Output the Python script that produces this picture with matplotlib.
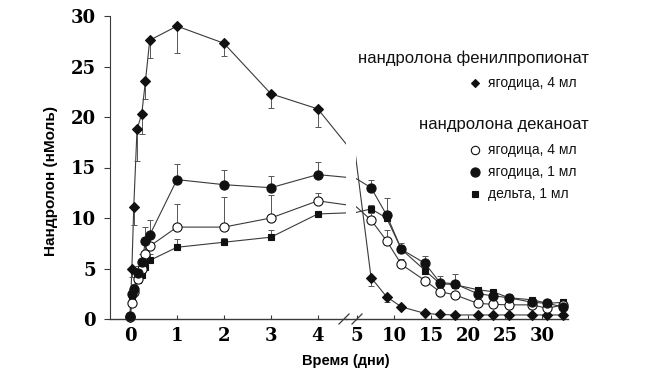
import matplotlib
matplotlib.use("Agg")
import matplotlib.pyplot as plt
from matplotlib.lines import Line2D
import numpy as np

# nandrolone phenylpropionate, gluteal 4 ml (diamonds)
fp_days = [0, 0.04, 0.08, 0.15, 0.25, 0.33, 0.42, 1, 2, 3, 4,
           6.9, 9, 11, 14.2, 16.2, 18.2, 21.3, 23.4, 25.5, 28.7, 30.7, 32.8]
fp_vals = [0.2, 5.0, 11.1, 18.8, 20.3, 23.6, 27.6, 29.0, 27.3, 22.3, 20.8,
           4.1, 2.2, 1.2, 0.55, 0.45, 0.4, 0.4, 0.4, 0.4, 0.4, 0.4, 0.4]
fp_err = [0, 0.8, 1.8, 3.2, 2.0, 1.8, 1.8, 2.7, 1.3, 1.4, 1.8,
          0.8, 0.5, 0.2, 0, 0, 0, 0, 0, 0, 0, 0, 0]

# nandrolone decanoate
dec_days = [0, 0.04, 0.08, 0.17, 0.25, 0.33, 0.42, 1, 2, 3, 4,
            6.9, 9, 11, 14.2, 16.2, 18.2, 21.3, 23.4, 25.5, 28.7, 30.7, 32.8]
glut4_vals = [0.2, 1.6, 2.7, 4.0, 5.0, 6.4, 7.2, 9.1, 9.1, 10.0, 11.7,
              9.8, 7.75, 5.4, 3.8, 2.7, 2.4, 1.55, 1.45, 1.4, 1.4, 1.05, 1.4]
glut4_err = [0, 0.4, 0.5, 0.6, 0.8, 1.0, 1.3, 2.3, 3.0, 2.3, 0.8,
             0.7, 1.05, 0.5, 0.4, 0.3, 0.3, 0.2, 0.2, 0.2, 0.2, 0.2, 0.2]
glut1_vals = [0.3, 2.5, 3.0, 4.6, 5.6, 7.7, 8.3, 13.8, 13.3, 13.0, 14.3,
              13.0, 10.3, 6.9, 5.5, 3.6, 3.5, 2.5, 2.3, 2.1, 1.65, 1.55, 1.2]
glut1_err = [0, 0.5, 0.5, 0.6, 0.8, 1.4, 1.5, 1.5, 1.45, 1.2, 1.2,
             0.8, 1.7, 0.6, 0.7, 0.7, 1.0, 0.5, 0.6, 0.4, 0.3, 0.3, 0.3]
delt1_vals = [0.2, 2.2, 3.0, 3.9, 4.4, 5.1, 5.8, 7.1, 7.6, 8.1, 10.4,
              10.9, 10.0, 6.9, 4.8, 3.5, 3.4, 2.9, 2.7, 2.1, 1.9, 1.55, 1.65]
delt1_err = [0, 0.4, 0.4, 0.5, 0.5, 0.6, 0.6, 0.8, 0.4, 0.7, 0,
             0.4, 0.4, 0.4, 0.4, 0.3, 0.3, 0.3, 0.3, 0.2, 0.2, 0.2, 0.2]

left_ticks = [0, 1, 2, 3, 4]
right_ticks = [5, 10, 15, 20, 25, 30]
y_ticks = [0, 5, 10, 15, 20, 25, 30]

W, H = 656, 370
LINE = "#3a3a3a"
DARK = "#111111"


def fx(px):
    return px / W


def fy(py):
    return 1 - py / H


fig = plt.figure(figsize=(W / 100, H / 100), dpi=100)
ax1 = fig.add_axes([fx(110), fy(319), fx(346) - fx(110), fy(16) - fy(319)])
ax2 = fig.add_axes([fx(356), fy(319), fx(568) - fx(356), fy(16) - fy(319)])

series = [
    (fp_days, fp_vals, fp_err, "D", 5.4, DARK, "down"),
    (dec_days, delt1_vals, delt1_err, "s", 5.0, DARK, "up"),
    (dec_days, glut4_vals, glut4_err, "o", 6.6, "white", "up"),
    (dec_days, glut1_vals, glut1_err, "o", 6.6, DARK, "up"),
]

limits = [(ax1, -0.426, 4.6), (ax2, 4.865, 33.5)]

for ax, lo, hi in limits:
    for days, vals, err, mk, ms, fc, side in series:
        d = np.array(days)
        v = np.array(vals)
        e = np.array(err)
        ax.plot(d, v, color=LINE, lw=0.8, zorder=2)
        sel = (e > 0) & (d >= lo) & (d <= hi)
        z = np.zeros(sel.sum())
        yerr = [e[sel], z] if side == "down" else [z, e[sel]]
        ax.errorbar(d[sel], v[sel], yerr=yerr, fmt="none", ecolor="#555555",
                    elinewidth=0.7, capsize=2.5, capthick=0.7, zorder=3)
        inside = (d >= lo) & (d <= hi)
        ax.plot(d[inside], v[inside], ls="none", marker=mk, ms=ms, mfc=fc,
                mec=DARK, mew=0.8, zorder=4, clip_on=False)
    ax.set_xlim(lo, hi)
    ax.set_ylim(0, 30)
    ax.patch.set_visible(False)
    for s in ("top", "right"):
        ax.spines[s].set_visible(False)
    ax.spines["bottom"].set_color(LINE)
    ax.spines["bottom"].set_linewidth(1.0)

tick_font = dict(family="DejaVu Serif", weight="bold", size=13)

ax1.spines["left"].set_color(LINE)
ax1.set_xticks(left_ticks)
ax1.set_xticklabels([str(t) for t in left_ticks], fontdict=tick_font)
ax1.set_yticks(y_ticks)
ax1.set_yticklabels([str(t) for t in y_ticks], fontdict=tick_font)
ax1.tick_params(axis="x", direction="in", length=3, pad=6, color=LINE)
ax1.tick_params(axis="y", direction="out", length=4, pad=6, color=LINE)

ax2.spines["left"].set_visible(False)
ax2.set_yticks([])
ax2.set_xticks(right_ticks)
ax2.set_xticklabels([str(t) for t in right_ticks], fontdict=tick_font)
ax2.tick_params(axis="x", direction="in", length=3, pad=6, color=LINE)

# axis break marks
fig.add_artist(Line2D([fx(346), fx(356)], [fy(319), fy(319)], color=LINE, lw=1.0))
for x0 in (339, 352):
    fig.add_artist(Line2D([fx(x0), fx(x0 + 10)], [fy(324), fy(314)],
                          color=LINE, lw=0.9))

fig.text(fx(51), fy(181), "Нандролон (нМоль)", rotation=90, ha="center",
         va="center", family="Liberation Sans", weight="bold", fontsize=11)
fig.text(fx(346), fy(361), "Время (дни)", ha="center", va="center",
         family="Liberation Sans", weight="bold", fontsize=10.5)

# legend
legend_font = dict(family="Liberation Sans", color="#111111")
fig.text(fx(589), fy(58), "нандролона фенилпропионат", ha="right", va="center",
         fontsize=12, **legend_font)
fig.text(fx(589), fy(124), "нандролона деканоат", ha="right", va="center",
         fontsize=12, **legend_font)
items = [
    (83, "D", 4.2, DARK, "ягодица, 4 мл"),
    (150, "o", 6.0, "white", "ягодица, 4 мл"),
    (172, "o", 6.6, DARK, "ягодица, 1 мл"),
    (194, "s", 4.6, DARK, "дельта, 1 мл"),
]
for py, mk, ms, fc, label in items:
    fig.add_artist(Line2D([fx(475)], [fy(py)], ls="none", marker=mk, ms=ms,
                          mfc=fc, mec=DARK, mew=0.8))
    fig.text(fx(488), fy(py), label, ha="left", va="center", fontsize=10,
             **legend_font)

fig.savefig("out.png", dpi=100)
